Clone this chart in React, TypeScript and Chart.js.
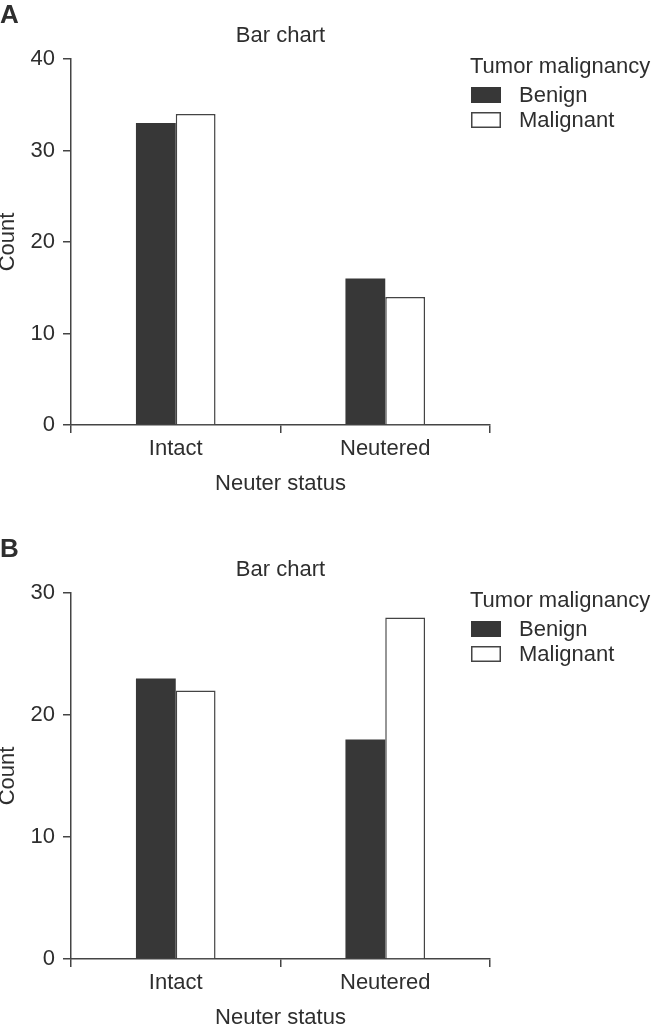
import React, { useEffect, useRef } from 'react';
import { Chart, registerables } from 'chart.js';

Chart.register(...registerables);

const categories = ['Intact', 'Neutered'];
const seriesLabels = ['Benign', 'Malignant'];
const benignA = [33, 16];
const malignantA = [34, 14];
const benignB = [23, 18];
const malignantB = [22, 28];
const yTicksA = [0, 10, 20, 30, 40];
const yTicksB = [0, 10, 20, 30];
const chartTitle = 'Bar chart';
const legendTitle = 'Tumor malignancy';
const xTitle = 'Neuter status';
const yTitle = 'Count';

const FONT = "'Liberation Sans', Arial, Helvetica, sans-serif";
const TEXT = '#2e2e2e';
const LINE = '#444444';
const DARK = '#373737';
const W = 653;
const H = 533;

function overlayPlugin(panelLabel: string) {
  return {
    id: 'overlay',
    afterDraw(chart: any) {
      const ctx = chart.ctx;
      ctx.save();
      ctx.fillStyle = TEXT;
      ctx.textAlign = 'left';
      ctx.textBaseline = 'middle';
      ctx.font = `bold 26px ${FONT}`;
      ctx.fillText(panelLabel, 0, 16);
      ctx.font = `22px ${FONT}`;
      ctx.fillText(legendTitle, 470, 67);
      chart.data.datasets.forEach((ds: any, i: number) => {
        const cy = 95 + i * 25;
        ctx.fillStyle = ds.backgroundColor;
        ctx.fillRect(471, cy - 8, 30, 16);
        if (ds.borderWidth) {
          ctx.strokeStyle = ds.borderColor;
          ctx.lineWidth = ds.borderWidth;
          ctx.strokeRect(471.75, cy - 7.25, 28.5, 14.5);
        }
        ctx.fillStyle = TEXT;
        ctx.fillText(ds.label, 519, cy + 1);
      });
      ctx.restore();
    },
  };
}

function Panel({ label, benign, malignant, yTicks }: { label: string; benign: number[]; malignant: number[]; yTicks: number[] }) {
  const ref = useRef<HTMLCanvasElement>(null);
  useEffect(() => {
    if (!ref.current) return;
    const chart = new Chart(ref.current, {
      type: 'bar',
      data: {
        labels: categories,
        datasets: [
          {
            label: seriesLabels[0],
            data: benign,
            backgroundColor: DARK,
            borderColor: DARK,
            borderWidth: 0,
            categoryPercentage: 0.38,
            barPercentage: 1,
          },
          {
            label: seriesLabels[1],
            data: malignant,
            backgroundColor: '#ffffff',
            borderColor: LINE,
            borderWidth: 1.5,
            categoryPercentage: 0.38,
            barPercentage: 1,
          },
        ],
      },
      options: {
        responsive: false,
        animation: false,
        devicePixelRatio: 1,
        layout: { padding: { left: 0, top: 0, right: W - 490, bottom: 0 } },
        plugins: {
          legend: { display: false },
          tooltip: { enabled: false },
          title: {
            display: true,
            text: chartTitle,
            fullSize: false,
            color: TEXT,
            font: { family: FONT, size: 22, weight: 'normal', lineHeight: 1.2 },
            padding: { top: 22.8, bottom: 9.8 },
          },
        },
        scales: {
          x: {
            grid: {
              display: true,
              drawOnChartArea: false,
              drawTicks: true,
              tickLength: 8,
              color: LINE,
              lineWidth: 1.5,
              offset: true,
            },
            border: { display: true, color: LINE, width: 1.5 },
            ticks: { color: TEXT, font: { family: FONT, size: 22, lineHeight: 1.2 }, padding: 3, maxRotation: 0 },
            title: {
              display: true,
              text: xTitle,
              color: TEXT,
              font: { family: FONT, size: 22, lineHeight: 1.2 },
              padding: { top: 0, bottom: 35.8 },
            },
            afterFit: (s: any) => {
              s.height = H - 425;
            },
          },
          y: {
            min: yTicks[0],
            max: yTicks[yTicks.length - 1],
            grid: {
              display: true,
              drawOnChartArea: false,
              drawTicks: true,
              tickLength: 8,
              color: LINE,
              lineWidth: 1.5,
            },
            border: { display: true, color: LINE, width: 1.5 },
            ticks: { color: TEXT, font: { family: FONT, size: 22, lineHeight: 1.2 }, padding: 8, stepSize: 10 },
            afterBuildTicks: (s: any) => {
              s.ticks = yTicks.map((v) => ({ value: v }));
            },
            title: {
              display: true,
              text: yTitle,
              color: TEXT,
              font: { family: FONT, size: 22, lineHeight: 0.72 },
              padding: { top: 0, bottom: 0 },
            },
            afterFit: (s: any) => {
              s.width = 71;
            },
          },
        },
      },
      plugins: [overlayPlugin(label)],
    } as any);
    return () => chart.destroy();
  }, [label, benign, malignant, yTicks]);
  return <canvas ref={ref} width={W} height={H} style={{ display: 'block', width: W, height: H }} />;
}

export default function App() {
  return (
    <div style={{ position: 'absolute', top: 0, left: 0, width: W, height: 1025, overflow: 'hidden', background: '#fff' }}>
      <div style={{ position: 'absolute', top: 0, left: 0 }}>
        <Panel label="A" benign={benignA} malignant={malignantA} yTicks={yTicksA} />
      </div>
      <div style={{ position: 'absolute', top: 534, left: 0 }}>
        <Panel label="B" benign={benignB} malignant={malignantB} yTicks={yTicksB} />
      </div>
    </div>
  );
}
